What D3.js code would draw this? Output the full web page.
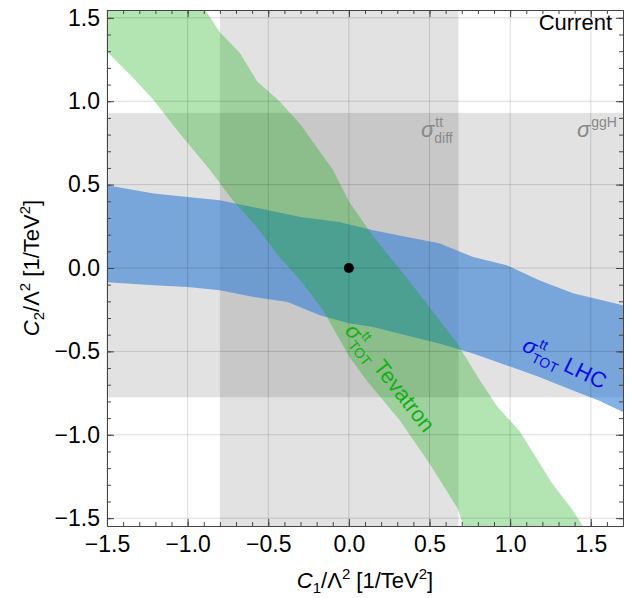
<!DOCTYPE html>
<html lang="en">
<head>
<meta charset="UTF-8">
<title>Current constraints on C1, C2</title>
<script src="https://d3js.org/d3.v7.min.js"></script>
<style>
  body { margin: 0; background: #fff; }
  text { font-family: "Liberation Sans", Arial, sans-serif; }
</style>
</head>
<body>
<div id="chart"></div>
<script>
// values, points are [C1, C2]
var diffBand = [-0.80, 0.68];    // sigma_diff tt : allowed C1 range
var ggHBand = [-0.775, 0.93];    // sigma ggH : allowed C2 range

var lhcUpper = [[-1.6, 0.51], [-1.5, 0.496], [-1.21, 0.446], [-1.0, 0.426], [-0.8, 0.406], [-0.3, 0.306],
  [-0.06, 0.276], [0.15, 0.226], [0.36, 0.186], [0.56, 0.148], [0.77, 0.066], [0.98, 0.016],
  [1.18, -0.074], [1.39, -0.152], [1.7, -0.224], [1.8, -0.25]];
var lhcLower = [[-1.6, -0.08], [-1.5, -0.086], [-1.21, -0.104], [-1.0, -0.114], [-0.8, -0.134], [-0.59, -0.174],
  [-0.38, -0.204], [-0.18, -0.284], [0.0, -0.332], [0.15, -0.354], [0.36, -0.404], [0.56, -0.452],
  [0.77, -0.512], [0.98, -0.584], [1.18, -0.654], [1.39, -0.734], [1.55, -0.794], [1.7, -0.864], [1.8, -0.9]];

var tevUpper = [[-0.94, 1.62], [-0.89, 1.546], [-0.80, 1.414], [-0.675, 1.288], [-0.57, 1.12], [-0.43, 1.0],
  [-0.30, 0.86], [-0.10, 0.59], [0.0, 0.40], [0.15, 0.19], [0.36, -0.06], [0.52, -0.26], [0.67, -0.45],
  [0.81, -0.67], [0.92, -0.83], [1.06, -0.98], [1.26, -1.29], [1.39, -1.455], [1.45, -1.545], [1.51, -1.64]];
var tevLower = [[-1.57, 1.43], [-1.50, 1.296], [-1.34, 1.142], [-1.21, 1.006], [-1.065, 0.826], [-0.86, 0.586],
  [-0.72, 0.406], [-0.57, 0.244], [-0.43, 0.064], [-0.30, -0.074], [-0.16, -0.254], [0.006, -0.536],
  [0.11, -0.674], [0.316, -0.914], [0.50, -1.172], [0.675, -1.442], [0.712, -1.55], [0.75, -1.64]];

var bestFit = [[0, 0]];
var xTicks = [-1.5, -1.0, -0.5, 0.0, 0.5, 1.0, 1.5];
var yTicks = [-1.5, -1.0, -0.5, 0.0, 0.5, 1.0, 1.5];

var W = 632, H = 598;
var x0 = 107, x1 = 623, y0 = 10, y1 = 526;

var x = d3.scaleLinear().domain([-1.5, 1.7]).range([x0, x1]);
var y = d3.scaleLinear().domain([-1.547, 1.547]).range([y1, y0]);

var svg = d3.select('#chart').append('svg')
  .attr('width', W)
  .attr('height', H);

svg.append('clipPath').attr('id', 'plotClip')
  .append('rect')
  .attr('x', x0).attr('y', y0)
  .attr('width', x1 - x0).attr('height', y1 - y0);

var plot = svg.append('g').attr('clip-path', 'url(#plotClip)');

// gray bands
plot.append('rect')
  .attr('x', x(diffBand[0])).attr('y', y0)
  .attr('width', x(diffBand[1]) - x(diffBand[0]))
  .attr('height', y1 - y0)
  .attr('fill', '#000').attr('fill-opacity', 0.115);

plot.append('rect')
  .attr('x', x0).attr('y', y(ggHBand[1]))
  .attr('width', x1 - x0)
  .attr('height', y(ggHBand[0]) - y(ggHBand[1]))
  .attr('fill', '#000').attr('fill-opacity', 0.115);

var line = d3.line()
  .x(function (d) { return x(d[0]); })
  .y(function (d) { return y(d[1]); });

// LHC band: upper edge then lower edge backwards
plot.append('path')
  .attr('d', line(lhcUpper.concat(lhcLower.slice().reverse())) + 'Z')
  .attr('fill', 'rgb(50,127,214)').attr('fill-opacity', 0.6);

// Tevatron band, closed through a far corner at top-left
var tevPoly = tevUpper.concat(tevLower.slice().reverse(), [[-1.8, 1.8]]);
plot.append('path')
  .attr('d', line(tevPoly) + 'Z')
  .attr('fill', 'rgb(0,170,0)').attr('fill-opacity', 0.3);

// grid
var grid = svg.append('g');
grid.selectAll('.gx').data(xTicks).enter().append('line')
  .attr('x1', function (d) { return x(d); }).attr('x2', function (d) { return x(d); })
  .attr('y1', y0).attr('y2', y1)
  .attr('stroke', '#000').attr('stroke-opacity', 0.14);
grid.selectAll('.gy').data(yTicks).enter().append('line')
  .attr('y1', function (d) { return y(d); }).attr('y2', function (d) { return y(d); })
  .attr('x1', x0).attr('x2', x1)
  .attr('stroke', '#000').attr('stroke-opacity', 0.14);

// best fit point
plot.selectAll('circle').data(bestFit).enter().append('circle')
  .attr('cx', function (d) { return x(d[0]); })
  .attr('cy', function (d) { return y(d[1]); })
  .attr('r', 5).attr('fill', '#000');

// frame and ticks
var fmt = d3.format('.1f');
var xMinor = d3.range(-15, 18).map(function (i) { return i / 10; });
var yMinor = d3.range(-15, 16).map(function (i) { return i / 10; });
var frameColor = '#444';

function styleAxis(g) {
  g.selectAll('path.domain').attr('stroke', frameColor);
  g.selectAll('.tick line').attr('stroke', frameColor);
  g.selectAll('.tick text').attr('fill', '#000').attr('font-size', 23)
    .attr('font-family', '"Liberation Sans", Arial, sans-serif');
}

function addAxis(axisFn, scale, major, minor, transform, labels, pad) {
  svg.append('g').attr('transform', transform)
    .call(axisFn(scale).tickValues(minor).tickSize(-4).tickSizeOuter(0).tickFormat(''))
    .call(styleAxis);
  var a = axisFn(scale).tickValues(major).tickSize(-7).tickSizeOuter(0).tickPadding(pad || 3);
  a.tickFormat(labels ? fmt : '');
  svg.append('g').attr('transform', transform).call(a).call(styleAxis);
}

addAxis(d3.axisBottom, x, xTicks, xMinor, 'translate(0,' + y1 + ')', true, 10);
addAxis(d3.axisTop, x, xTicks, xMinor, 'translate(0,' + y0 + ')', false);
addAxis(d3.axisLeft, y, yTicks, yMinor, 'translate(' + x0 + ',0)', true, 7);
addAxis(d3.axisRight, y, yTicks, yMinor, 'translate(' + x1 + ',0)', false);

// axis titles
function axisTitle(t, idx) {
  t.append('tspan').attr('font-style', 'italic').text('C');
  t.append('tspan').attr('font-size', 15).attr('dy', 5).text(idx);
  t.append('tspan').attr('dy', -5).text('/Λ');
  t.append('tspan').attr('font-size', 15).attr('dy', -9).text('2');
  t.append('tspan').attr('dy', 9).text(' [1/TeV');
  t.append('tspan').attr('font-size', 15).attr('dy', -9).text('2');
  t.append('tspan').attr('dy', 9).text(']');
}

var xt = svg.append('text').attr('x', (x0 + x1) / 2).attr('y', 588)
  .attr('text-anchor', 'middle').attr('font-size', 22);
axisTitle(xt, '1');

var yt = svg.append('text')
  .attr('transform', 'translate(39,' + ((y0 + y1) / 2) + ') rotate(-90)')
  .attr('text-anchor', 'middle').attr('font-size', 22);
axisTitle(yt, '2');

// sigma labels: sigma with stacked super/subscript, then optional text
function sigmaLabel(g, sup, sub, rest, color) {
  var s = g.append('text').attr('font-size', 22).attr('font-style', 'italic')
    .attr('fill', color).text('σ');
  var w = s.node().getComputedTextLength() + 1;
  var wide = 0;
  if (sup) {
    var a = g.append('text').attr('x', w).attr('y', -10).attr('font-size', 14)
      .attr('fill', color).text(sup);
    wide = Math.max(wide, a.node().getComputedTextLength());
  }
  if (sub) {
    var b = g.append('text').attr('x', w - 1).attr('y', 6).attr('font-size', 14)
      .attr('fill', color).text(sub);
    wide = Math.max(wide, b.node().getComputedTextLength());
  }
  if (rest) {
    g.append('text').attr('x', w + wide + 4).attr('font-size', 22)
      .attr('fill', color).text(rest);
  }
}

sigmaLabel(svg.append('g').attr('transform', 'translate(344,331) rotate(52)'), 'tt', 'TOT', 'Tevatron', '#13b013');
sigmaLabel(svg.append('g').attr('transform', 'translate(521,350) rotate(26)'), 'tt', 'TOT', 'LHC', '#0a0ae6');
sigmaLabel(svg.append('g').attr('transform', 'translate(421,137)'), 'tt', 'diff', null, '#888');
sigmaLabel(svg.append('g').attr('transform', 'translate(577,137)'), 'ggH', null, null, '#888');

svg.append('text').attr('x', 612).attr('y', 30)
  .attr('text-anchor', 'end').attr('font-size', 22).attr('fill', '#000')
  .text('Current');
</script>
</body>
</html>
